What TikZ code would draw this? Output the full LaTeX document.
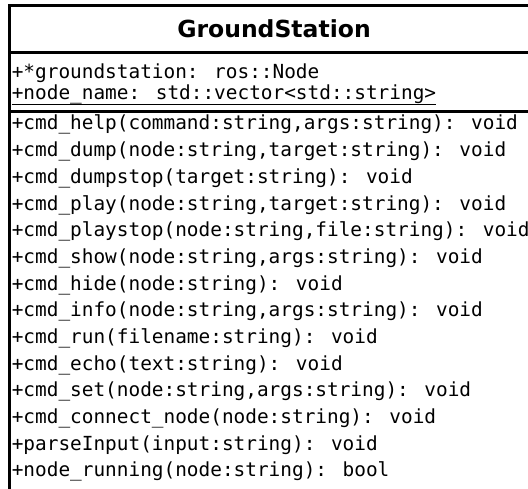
\documentclass[tikz,border=0pt]{standalone}
\usepackage{fontspec}
\usetikzlibrary{calc}
\newfontfamily\monofont{DejaVu Sans Mono}
\newfontfamily\headfont{DejaVu Sans}[BoldFont={DejaVu Sans Bold}]
\begin{document}
\begin{tikzpicture}[x=1pt,y=-1pt,
  member/.style={anchor=base west,inner sep=0pt,font=\monofont\fontsize{19.4}{22}\selectfont},
  title/.style={anchor=base,inner sep=0pt,font=\headfont\bfseries\fontsize{23.5}{28}\selectfont},
  frame/.style={line width=2.6pt,black},
  staticline/.style={line width=1.2pt,black}]
\useasboundingbox (0,0) rectangle (528,489);
\clip (0,0) rectangle (528,489);
\fill[white] (0,0) rectangle (528,489);

% class box outline and compartment dividers
\coordinate (tl) at (9.5,5.5);
\coordinate (bl) at (9.5,495);
\coordinate (tr) at (545,5.5);
\draw[frame] (tr) -- (tl) -- (bl);
\coordinate (d1l) at (9.5,52.5);
\coordinate (d1r) at (545,52.5);
\coordinate (d2l) at (9.5,111.5);
\coordinate (d2r) at (545,111.5);
\draw[frame] (d1l) -- (d1r);
\draw[frame] (d2l) -- (d2r);

% class name
\node[title] (name) at (274,38) {GroundStation};

% attributes (the static one is underlined)
\node[member] (a1) at (11.6,79) {+*groundstation: ros::Node};
\node[member] (a2) at (11.6,100) {+node\_name: std::vector<std::string>};
\draw[staticline] ($(a2.base west)+(0,4.3)$) -- ($(a2.base east)+(0,4.3)$);

% operations
\foreach \txt [count=\i from 0] in {
  {+cmd\_help(command:string,args:string): void},
  {+cmd\_dump(node:string,target:string): void},
  {+cmd\_dumpstop(target:string): void},
  {+cmd\_play(node:string,target:string): void},
  {+cmd\_playstop(node:string,file:string): void},
  {+cmd\_show(node:string,args:string): void},
  {+cmd\_hide(node:string): void},
  {+cmd\_info(node:string,args:string): void},
  {+cmd\_run(filename:string): void},
  {+cmd\_echo(text:string): void},
  {+cmd\_set(node:string,args:string): void},
  {+cmd\_connect\_node(node:string): void},
  {+parseInput(input:string): void},
  {+node\_running(node:string): bool}}
  \node[member] (op\i) at (11.6,130+26.67*\i) {\txt};
\end{tikzpicture}
\end{document}
